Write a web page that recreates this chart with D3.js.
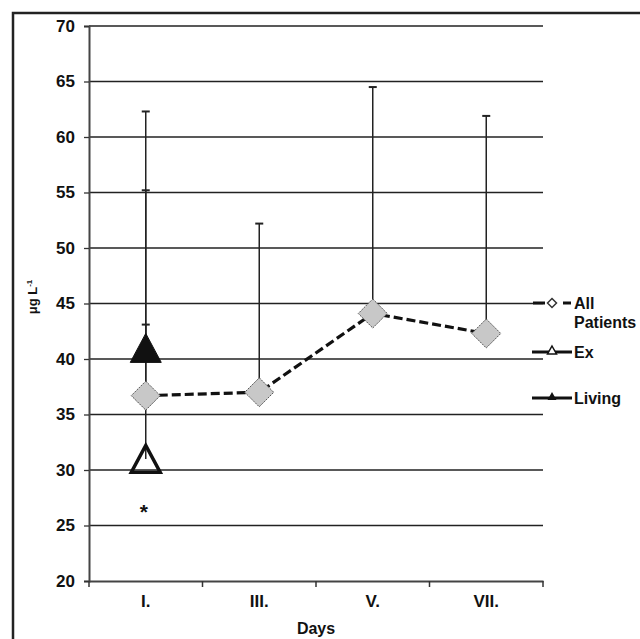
<!DOCTYPE html>
<html><head><meta charset="utf-8">
<script src="https://cdn.jsdelivr.net/npm/d3@7"></script>
<style>body{margin:0;background:#fff}svg{display:block}text{font-family:"Liberation Sans",Arial,sans-serif;font-weight:bold;fill:#111}</style>
</head><body><svg id="c" width="640" height="639"></svg>
<script>
const categories = ["I.", "III.", "V.", "VII."];
const allPatients = [36.7, 37.0, 44.1, 42.3];
const allUpper = [55.2, 52.2, 64.5, 61.9];
const exValues = [31.0];
const exUpper = [62.3];
const livingValues = [41.0];
const livingUpper = [43.1];
const yTicks = [20, 25, 30, 35, 40, 45, 50, 55, 60, 65, 70];
const legendLabels = [["All", "Patients"], ["Ex"], ["Living"]];

const svg = d3.select("#c");
const L = 89, R = 543, T = 26, B = 581;
const x = d3.scaleBand().domain(categories).range([L, R]).padding(0);
const y = d3.scaleLinear().domain([20, 70]).range([B, T]);
const cx = c => x(c) + x.bandwidth() / 2;
const FONT = '"Liberation Sans",Arial,sans-serif';

// outer frame
svg.append("rect").attr("x", 13).attr("y", 13).attr("width", 700).attr("height", 700)
  .attr("fill", "none").attr("stroke", "#222").attr("stroke-width", 2.5);

// gridlines
svg.append("g").selectAll("line").data(yTicks.filter(v => v > 20)).join("line")
  .attr("x1", L).attr("x2", R).attr("y1", d => y(d)).attr("y2", d => y(d))
  .attr("stroke", "#222").attr("stroke-width", 1.3);

// y axis
const ya = svg.append("g").attr("transform", `translate(${L},0)`)
  .call(d3.axisLeft(y).tickValues(yTicks).tickSize(5).tickPadding(9));
ya.select(".domain").attr("stroke", "#444").attr("stroke-width", 2);
ya.selectAll(".tick line").attr("stroke", "#333").attr("stroke-width", 1.3);
ya.selectAll("text").style("font-size", "17px").style("font-family", FONT).style("font-weight", "bold").attr("fill", "#111");

// x axis
const xa = svg.append("g").attr("transform", `translate(0,${B})`)
  .call(d3.axisBottom(x).tickSize(0).tickPadding(14));
xa.select(".domain").attr("stroke", "#444").attr("stroke-width", 2);
xa.selectAll("text").style("font-size", "17px").style("font-family", FONT).style("font-weight", "bold").attr("fill", "#111");
const bounds = categories.map(c => x(c)).concat([R]);
svg.append("g").selectAll("line").data(bounds).join("line")
  .attr("x1", d => d).attr("x2", d => d).attr("y1", B).attr("y2", B + 6)
  .attr("stroke", "#333").attr("stroke-width", 1.5);

svg.append("text").attr("x", (L + R) / 2).attr("y", 634).attr("text-anchor", "middle")
  .style("font-size", "16px").text("Days");

const yl = svg.append("text").attr("transform", "translate(37,297) rotate(-90)")
  .attr("text-anchor", "middle").style("font-size", "13px");
yl.append("tspan").text("μg L");
yl.append("tspan").attr("dy", -5).style("font-size", "8px").text("-1");

// error bars
function errBars(cats, vals, ups) {
  const g = svg.append("g");
  cats.forEach((c, i) => {
    g.append("line").attr("x1", cx(c)).attr("x2", cx(c)).attr("y1", y(vals[i])).attr("y2", y(ups[i]))
      .attr("stroke", "#222").attr("stroke-width", 1.5);
    g.append("line").attr("x1", cx(c) - 4).attr("x2", cx(c) + 4).attr("y1", y(ups[i])).attr("y2", y(ups[i]))
      .attr("stroke", "#222").attr("stroke-width", 2);
  });
}
errBars(categories.slice(0, 1), exValues, exUpper);
errBars(categories, allPatients, allUpper);
errBars(categories.slice(0, 1), livingValues, livingUpper);

// dashed line
svg.append("path").datum(categories.map((c, i) => [cx(c), y(allPatients[i])]))
  .attr("d", d3.line()).attr("fill", "none").attr("stroke", "#111")
  .attr("stroke-width", 3.2).attr("stroke-dasharray", "9,4");

const diamond = (s) => `M0,${-s}L${s},0L0,${s}L${-s},0Z`;
const tri = (w, h) => `M0,${-h / 2}L${w / 2},${h / 2}L${-w / 2},${h / 2}Z`;

svg.append("g").selectAll("path").data(categories).join("path")
  .attr("transform", (c, i) => `translate(${cx(c)},${y(allPatients[i])})`)
  .attr("d", diamond(14.5)).attr("fill", "#c8c8c8").attr("stroke", "#555")
  .attr("stroke-width", 1).attr("stroke-dasharray", "2,1");

svg.append("path").attr("transform", `translate(${cx(categories[0])},${y(exValues[0])})`)
  .attr("d", tri(29, 27)).attr("fill", "none").attr("stroke", "#111").attr("stroke-width", 3.4)
  .attr("stroke-linejoin", "miter");
svg.append("path").attr("transform", `translate(${cx(categories[0])},${y(livingValues[0])})`)
  .attr("d", tri(31, 29)).attr("fill", "#111").attr("stroke", "#111").attr("stroke-width", 1);

svg.append("text").attr("x", cx(categories[0]) - 2).attr("y", 519).attr("text-anchor", "middle")
  .style("font-size", "21px").text("*");

// legend
const lg = svg.append("g");
const ly = [303, 352, 398];
lg.append("line").attr("x1", 533).attr("x2", 545).attr("y1", ly[0]).attr("y2", ly[0]).attr("stroke", "#111").attr("stroke-width", 3);
lg.append("line").attr("x1", 563).attr("x2", 571).attr("y1", ly[0]).attr("y2", ly[0]).attr("stroke", "#111").attr("stroke-width", 3);
lg.append("path").attr("transform", `translate(552,${ly[0]})`).attr("d", diamond(4.5)).attr("fill", "#fff").attr("stroke", "#333").attr("stroke-width", 1.5);
lg.append("line").attr("x1", 532).attr("x2", 572).attr("y1", ly[1]).attr("y2", ly[1]).attr("stroke", "#111").attr("stroke-width", 3);
lg.append("path").attr("transform", `translate(552,${ly[1] - 2})`).attr("d", tri(9, 8)).attr("fill", "#fff").attr("stroke", "#111").attr("stroke-width", 1.5);
lg.append("line").attr("x1", 532).attr("x2", 572).attr("y1", ly[2]).attr("y2", ly[2]).attr("stroke", "#111").attr("stroke-width", 3);
lg.append("path").attr("transform", `translate(552,${ly[2] - 2})`).attr("d", tri(9, 8)).attr("fill", "#111");
legendLabels.forEach((lab, i) => {
  const t = lg.append("text").attr("x", 574).attr("y", ly[i] + 6).style("font-size", "16px");
  lab.forEach((s, j) => t.append("tspan").attr("x", 574).attr("dy", j ? 19 : 0).text(s));
});
</script></body></html>
